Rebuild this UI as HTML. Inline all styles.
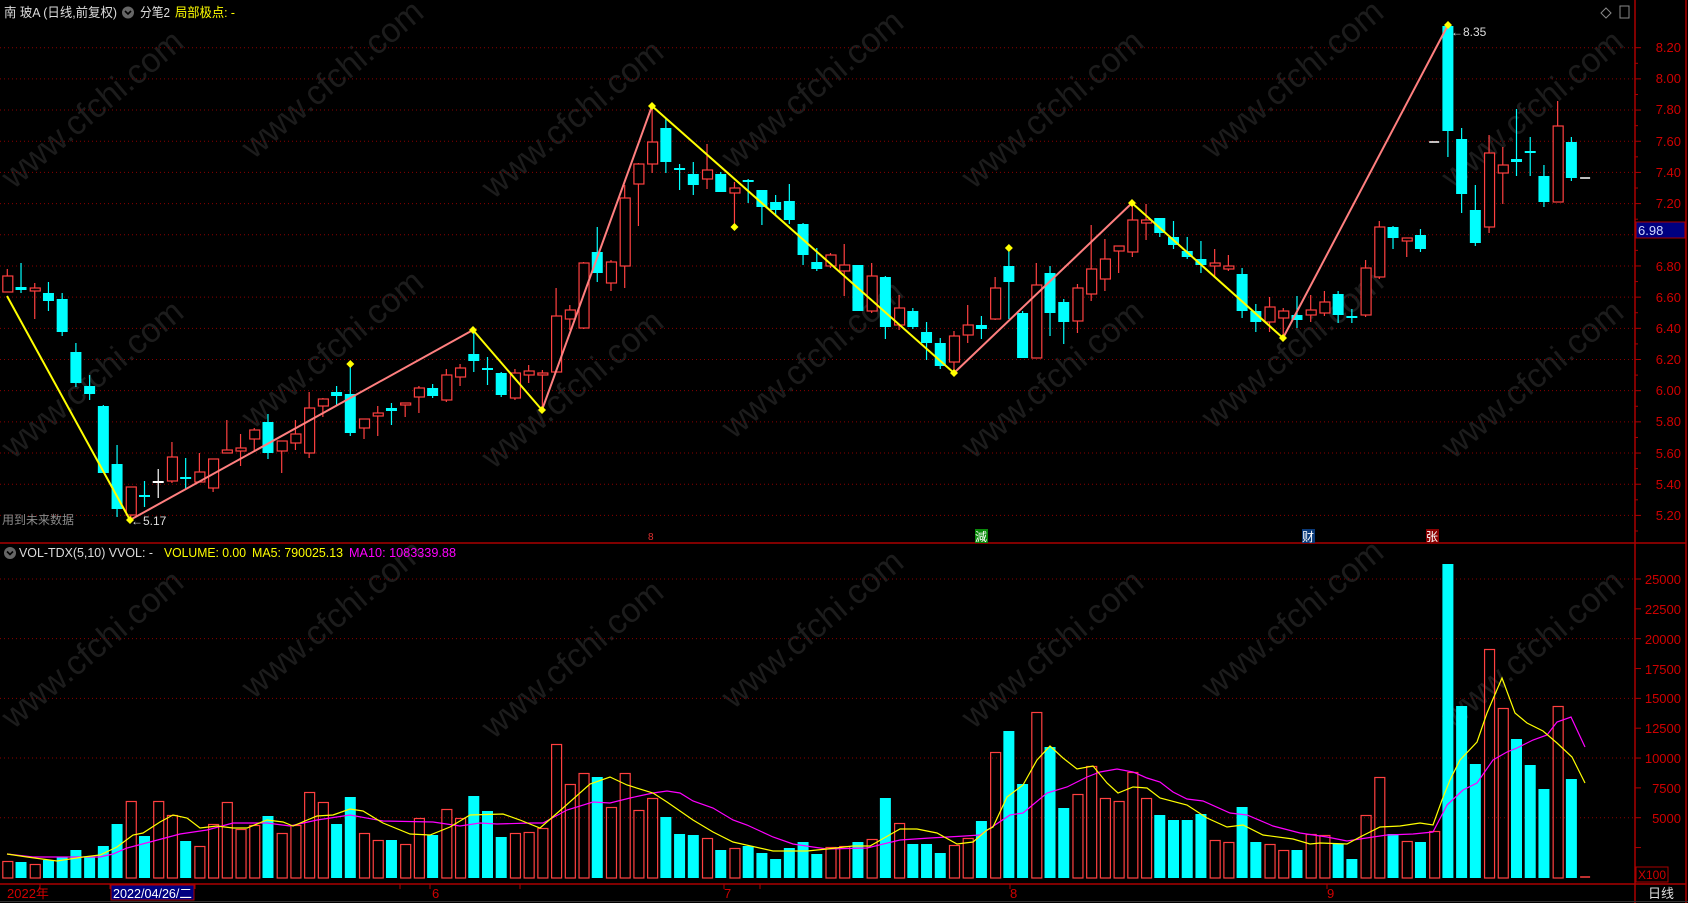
<!DOCTYPE html>
<html><head><meta charset="utf-8">
<style>
html,body{margin:0;padding:0;background:#000;width:1688px;height:903px;overflow:hidden}
svg{display:block}
text{font-family:"Liberation Sans","Noto Sans CJK SC",sans-serif}
</style></head>
<body>
<svg id="s" width="1688" height="903" viewBox="0 0 1688 903" xmlns="http://www.w3.org/2000/svg">
<rect width="1688" height="903" fill="#000"/>
<g id="wm" fill="#1c1c1c" font-size="34"></g>
<g id="grid"></g>
<g id="g"></g>
<!-- header -->
<text x="4" y="17" font-size="13" fill="#dcdcdc" textLength="113" lengthAdjust="spacingAndGlyphs">南 玻A (日线,前复权)</text>
<circle cx="128" cy="12.5" r="6" fill="#666"/>
<path d="M125 11 L128 14 L131 11" stroke="#000" stroke-width="1.6" fill="none"/>
<text x="140" y="17" font-size="13" fill="#dcdcdc" textLength="30" lengthAdjust="spacingAndGlyphs">分笔2</text>
<text x="175" y="17" font-size="13" fill="#ffff00" textLength="60" lengthAdjust="spacingAndGlyphs">局部极点: -</text>
<path d="M1606 8 L1611 13 L1606 18 L1601 13 Z" stroke="#888" fill="none"/>
<rect x="1620" y="6" width="9" height="12" stroke="#888" fill="none"/>
<text x="2" y="524" font-size="12" fill="#8a8a8a">用到未来数据</text>
<text x="131" y="525" font-size="12" fill="#ddd">←5.17</text>
<text x="1451" y="36" font-size="12" fill="#ddd">←8.35</text>
<!-- price labels -->
<g font-size="13" fill="#d00000" text-anchor="end">
<text x="1681" y="52">8.20</text><text x="1681" y="83">8.00</text><text x="1681" y="114">7.80</text>
<text x="1681" y="146">7.60</text><text x="1681" y="177">7.40</text><text x="1681" y="208">7.20</text>
<text x="1681" y="271">6.80</text><text x="1681" y="302">6.60</text><text x="1681" y="333">6.40</text>
<text x="1681" y="364">6.20</text><text x="1681" y="395">6.00</text><text x="1681" y="426">5.80</text>
<text x="1681" y="458">5.60</text><text x="1681" y="489">5.40</text><text x="1681" y="520">5.20</text>
<text x="1681" y="584">25000</text><text x="1681" y="614">22500</text><text x="1681" y="644">20000</text>
<text x="1681" y="674">17500</text><text x="1681" y="703">15000</text><text x="1681" y="733">12500</text>
<text x="1681" y="763">10000</text><text x="1681" y="793">7500</text><text x="1681" y="823">5000</text>
</g>
<rect x="1636" y="222" width="49" height="16" fill="#000080" stroke="#a00" stroke-width="1"/>
<text x="1638" y="235" font-size="13" fill="#cfd8ff">6.98</text>
<rect x="1636" y="867" width="32" height="15" fill="none" stroke="#a00"/>
<text x="1638" y="879" font-size="12" fill="#d00000">X100</text>
<text x="1648" y="898" font-size="13" fill="#ddd">日线</text>
<!-- markers -->
<text x="648" y="540" font-size="10" fill="#e03030">8</text>
<rect x="975" y="529" width="13" height="14" fill="#0a8a0a"/><text x="975" y="541" font-size="12" fill="#fff">減</text>
<rect x="1302" y="529" width="13" height="14" fill="#0a3a7a"/><text x="1302" y="541" font-size="12" fill="#fff">财</text>
<rect x="1426" y="529" width="13" height="14" fill="#8a0000"/><text x="1426" y="541" font-size="12" fill="#fff">张</text>
<!-- volume header -->
<circle cx="10" cy="553" r="6" fill="#666"/>
<path d="M7 551.5 L10 554.5 L13 551.5" stroke="#000" stroke-width="1.6" fill="none"/>
<text x="19" y="557" font-size="13" fill="#dcdcdc" textLength="134" lengthAdjust="spacingAndGlyphs">VOL-TDX(5,10) VVOL: -</text>
<text x="164" y="557" font-size="13" fill="#ffff00" textLength="82" lengthAdjust="spacingAndGlyphs">VOLUME: 0.00</text>
<text x="252" y="557" font-size="13" fill="#ffff00" textLength="91" lengthAdjust="spacingAndGlyphs">MA5: 790025.13</text>
<text x="349" y="557" font-size="13" fill="#ff00ff" textLength="107" lengthAdjust="spacingAndGlyphs">MA10: 1083339.88</text>
<!-- date axis -->
<text x="7" y="898" font-size="13" fill="#d00000">2022年</text>
<rect x="111" y="885" width="83" height="15" fill="#000080" stroke="#a00"/>
<text x="113" y="898" font-size="13" fill="#fff" textLength="79" lengthAdjust="spacingAndGlyphs">2022/04/26/二</text>
<text x="432" y="898" font-size="13" fill="#d00000">6</text>
<text x="724" y="898" font-size="13" fill="#d00000">7</text>
<text x="1010" y="898" font-size="13" fill="#d00000">8</text>
<text x="1327" y="898" font-size="13" fill="#d00000">9</text>
</svg>
<script>
(function(){
var NS="http://www.w3.org/2000/svg";
function el(p,t,a){var e=document.createElementNS(NS,t);for(var k in a)e.setAttribute(k,a[k]);p.appendChild(e);return e;}
var g=document.getElementById('g'),gr=document.getElementById('grid'),wm=document.getElementById('wm');
var wpos=[[90,110],[330,80],[570,120],[810,90],[1050,110],[1290,80],[1530,110],[90,380],[330,350],[570,390],[810,360],[1050,380],[1290,350],[1530,380],[90,650],[330,620],[570,660],[810,630],[1050,650],[1290,620],[1530,650]];
wpos.forEach(function(p){var t=el(wm,'text',{x:p[0]-110,y:p[1]+12,transform:'rotate(-40 '+p[0]+' '+p[1]+')'});t.textContent='www.cfchi.com';});
for(var k=0;k<16;k++){var y=47.7+k*31.18;el(gr,'line',{x1:0,x2:1635,y1:y,y2:y,stroke:'#8a0000','stroke-dasharray':'1 3'});
 el(gr,'line',{x1:1635,x2:1641,y1:y,y2:y,stroke:'#a00'});el(gr,'line',{x1:1635,x2:1638,y1:y+15.6,y2:y+15.6,stroke:'#a00'});}
for(var k=1;k<=5;k++){var y=877.4-k*59.68;el(gr,'line',{x1:0,x2:1635,y1:y,y2:y,stroke:'#8a0000','stroke-dasharray':'1 3'});}
for(var k=1;k<=10;k++){var y=877.4-k*29.84;el(gr,'line',{x1:1635,x2:1641,y1:y,y2:y,stroke:'#a00'});}
el(gr,'line',{x1:1635,x2:1635,y1:0,y2:903,stroke:'#a00','stroke-width':1.5});
el(gr,'line',{x1:1686,x2:1686,y1:0,y2:903,stroke:'#a00','stroke-width':1.5});
el(gr,'line',{x1:0,x2:1686,y1:543,y2:543,stroke:'#a00','stroke-width':1.5});
el(gr,'line',{x1:0,x2:1686,y1:884,y2:884,stroke:'#a00','stroke-width':1.5});
el(gr,'line',{x1:0,x2:1688,y1:901.5,y2:901.5,stroke:'#333','stroke-width':1});
[40,110,195,400,430,520,724,760,1010,1327].forEach(function(x){el(gr,'line',{x1:x,x2:x,y1:884,y2:889,stroke:'#a00'});});
var C=[[276,292,269,292,'r'],[287,290,263,293,'c'],[288,291,283,319,'r'],[293,301,282,311,'c'],[299,332,293,336,'c'],[352,383,343,387,'c'],[386,394,375,400,'c'],[406,473,405,473,'c'],[464,509,445,517,'c'],[487,515,487,520,'r'],
[495,497,481,507,'c'],[481,481,469,498,'w'],[457,481,442,483,'r'],[477,478,458,490,'c'],[472,482,453,482,'r'],[459,488,459,492,'r'],[450,453,420,453,'r'],[448,451,434,466,'r'],[430,439,428,452,'r'],[422,453,414,459,'c'],
[441,451,441,473,'r'],[434,443,420,450,'r'],[408,453,392,458,'r'],[399,406,398,417,'r'],[392,396,386,406,'c'],[394,433,364,436,'c'],[419,428,419,439,'r'],[413,416,406,436,'r'],[408,411,403,425,'c'],[403,405,403,417,'r'],
[388,397,386,413,'r'],[388,396,384,398,'c'],[375,400,369,402,'r'],[368,377,364,386,'r'],[354,361,333,372,'c'],[368,370,357,385,'c'],[373,395,372,397,'c'],[373,398,369,400,'r'],[371,375,365,383,'r'],[373,375,370,410,'r'],
[316,372,288,372,'r'],[310,319,305,330,'r'],[263,328,262,329,'r'],[252,273,227,282,'c'],[262,283,260,291,'r'],[198,266,185,288,'r'],[164,184,163,226,'r'],[142,164,106,173,'r'],[128,162,118,173,'c'],[168,170,164,190,'c'],
[174,185,162,195,'c'],[170,179,144,189,'r'],[174,192,172,192,'c'],[188,193,182,227,'r'],[180,182,179,203,'c'],[190,207,190,225,'c'],[202,210,195,215,'c'],[201,220,184,224,'c'],[224,255,223,265,'c'],[262,269,248,271,'c'],
[255,266,253,268,'r'],[265,271,244,296,'r'],[265,311,265,311,'c'],[276,311,263,313,'r'],[277,327,276,339,'c'],[308,325,295,330,'r'],[311,327,308,329,'c'],[332,343,322,360,'c'],[343,366,338,369,'c'],[336,362,331,373,'r'],
[325,335,305,343,'r'],[325,329,316,339,'c'],[288,319,277,320,'r'],[266,282,248,319,'c'],[313,358,311,358,'c'],[285,358,263,358,'r'],[273,313,266,336,'c'],[302,322,299,344,'c'],[288,321,284,333,'r'],[269,294,225,301,'r'],
[259,279,239,291,'r'],[246,251,246,273,'r'],[220,252,202,257,'r'],[220,223,204,240,'r'],[218,233,218,237,'c'],[237,245,221,249,'c'],[251,257,237,259,'c'],[259,265,241,273,'c'],[263,266,249,277,'r'],[266,269,255,271,'r'],
[274,311,268,318,'c'],[311,322,304,332,'c'],[307,322,297,332,'r'],[311,318,308,338,'r'],[315,320,296,328,'c'],[310,315,295,322,'r'],[302,313,291,316,'r'],[294,315,291,323,'c'],[316,317,309,323,'c'],[268,315,260,317,'r'],
[227,277,221,279,'r'],[227,238,226,249,'c'],[238,241,238,257,'r'],[235,249,229,252,'c'],[142,142,142,142,'d'],[26,131,25,157,'c'],[139,194,128,213,'c'],[210,243,185,246,'c'],[153,227,135,233,'r'],[165,173,147,204,'r'],
[159,162,109,176,'c'],[151,153,137,176,'c'],[176,202,165,207,'c'],[126,202,101,202,'r'],[142,178,137,181,'c'],[178,178,178,178,'d']];
var V=[861,862,864,860,857,850,857,846,824,801,836,801,815,841,846,824,802,829,825,816,833,825,792,802,824,797,833,840,840,844,818,835,809,818,796,811,837,833,832,828,744,784,773,777,807,773,810,798,817,834,835,838,850,848,846,853,859,848,842,854,847,846,842,839,798,823,844,844,853,845,838,821,752,731,784,712,747,808,794,766,798,801,772,798,815,820,820,814,840,842,807,842,844,850,850,834,835,844,859,815,777,834,841,842,831,564,706,764,649,708,739,765,789,706,779,878];
var RED='#ff4040',CY='#00ffff';
function X(i){return 7.3+13.72*i;}
V.forEach(function(t,i){var x=X(i),c=C[i][4];
 if(i==115){el(g,'line',{x1:x-5,x2:x+5,y1:877,y2:877,stroke:RED,'stroke-width':1.5});return;}
 if(c=='c')el(g,'rect',{x:x-5.5,y:t,width:11,height:878-t,fill:CY});
 else el(g,'rect',{x:x-4.5,y:t+0.5,width:10,height:877.5-t,fill:'none',stroke:RED,'stroke-width':1.2});
});
var Y5=[[7,854],[27,857],[57,861],[83,857],[100,855],[117,847],[133,835],[143,833],[160,822],[173,815],[187,818],[200,828],[217,826],[233,828],[247,828],[267,820],[283,822],[293,826],[317,816],[333,815],[350,809],[363,811],[383,823],[410,834],[430,835],[450,827],[470,815],[503,814],[520,820],[540,828],[563,808],[590,784],[610,777],[627,785],[653,793],[667,802],[693,820],[713,832],[733,842],[773,851],[807,851],[827,849],[853,846],[870,846],[900,829],[917,829],[937,833],[957,844],[973,842],[987,830],[993,827],[1007,797],[1023,785],[1037,760],[1050,746],[1063,758],[1077,769],[1093,766],[1107,783],[1118,793],[1133,787],[1147,788],[1160,798],[1187,805],[1207,818],[1227,827],[1243,825],[1263,835],[1293,839],[1310,844],[1320,843],[1347,844],[1360,837],[1380,827],[1400,826],[1420,823],[1433,825],[1442,800],[1450,780],[1460,760],[1477,742],[1487,713],[1502,678],[1515,713],[1527,723],[1543,731],[1557,743],[1572,757],[1585,783]];
var Y10=[[7,854],[33,857],[100,857],[113,854],[127,848],[150,842],[180,834],[207,830],[233,823],[267,823],[290,826],[317,820],[350,815],[383,821],[433,822],[460,826],[480,823],[497,824],[530,823],[543,823],[567,810],[593,802],[610,803],[630,798],[653,793],[667,791],[680,793],[693,801],[713,808],[733,820],[747,825],[773,837],[793,844],[813,847],[827,849],[867,848],[900,840],[930,838],[965,836],[980,835],[1010,815],[1023,813],[1047,793],[1067,787],[1087,777],[1100,772],[1117,769],[1133,772],[1147,778],[1160,782],[1173,792],[1187,799],[1203,801],[1230,813],[1247,815],[1273,826],[1300,833],[1327,837],[1347,841],[1373,837],[1387,835],[1413,834],[1433,832],[1447,805],[1463,790],[1477,783],[1493,760],[1507,752],[1517,748],[1533,740],[1547,735],[1557,722],[1571,717],[1585,747]];
el(g,'polyline',{points:Y10.join(' '),fill:'none',stroke:'#ff00ff','stroke-width':1.2});
el(g,'polyline',{points:Y5.join(' '),fill:'none',stroke:'#ffff00','stroke-width':1.2});
C.forEach(function(c,i){var x=X(i),t=c[0],b=c[1],h=c[2],l=c[3],k=c[4];
 if(k=='d'){el(g,'line',{x1:x-5,x2:x+5,y1:t,y2:t,stroke:'#fff','stroke-width':1.5});return;}
 var col=k=='c'?CY:(k=='w'?'#fff':RED);
 if(k=='r'){
  if(h<t)el(g,'line',{x1:x,x2:x,y1:h,y2:t,stroke:col,'stroke-width':1.2});
  if(l>b)el(g,'line',{x1:x,x2:x,y1:b,y2:l,stroke:col,'stroke-width':1.2});
  el(g,'rect',{x:x-4.5,y:t,width:10,height:Math.max(b-t,2),fill:'#000',stroke:col,'stroke-width':1.2});
 }else{
  el(g,'line',{x1:x,x2:x,y1:h,y2:l,stroke:col,'stroke-width':1.2});
  el(g,'rect',{x:x-5.5,y:t,width:11,height:Math.max(b-t,2),fill:col});
 }
});
var Z=[[7,296],[130,520],[473,330],[542,410],[652,106],[954,373],[1132,203],[1283,338],[1448,25]];
for(var i=0;i<Z.length-1;i++){var up=Z[i+1][1]<Z[i][1];
 el(g,'line',{x1:Z[i][0],y1:Z[i][1],x2:Z[i+1][0],y2:Z[i+1][1],stroke:up?'#ff7f7f':'#ffff00','stroke-width':2});}
function dia(x,y){el(g,'path',{d:'M'+x+' '+(y-4)+'L'+(x+4)+' '+y+'L'+x+' '+(y+4)+'L'+(x-4)+' '+y+'Z',fill:'#ffff00'});}
Z.slice(1).forEach(function(p){dia(p[0],p[1]);});
dia(X(25),364);dia(X(53),227);dia(X(73),248);
})();
</script>
</body></html>
